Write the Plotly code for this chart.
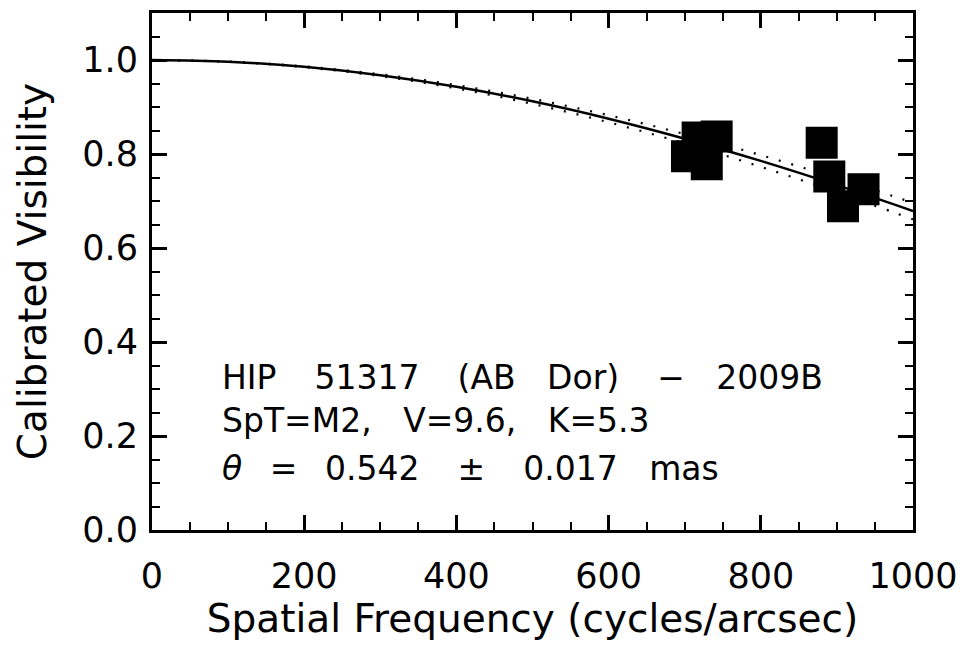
import plotly.graph_objects as go

obs_freq = [703, 717, 729, 742, 880, 890, 908, 935]
obs_vis = [0.795, 0.835, 0.778, 0.837, 0.824, 0.752, 0.689, 0.725]

# Uniform-disk model curve
model_freq = [0, 100, 200, 300, 400, 500, 600, 700, 800, 900, 1000]
model_vis = [1.0, 0.9964, 0.9856, 0.9677, 0.9431, 0.9121, 0.8751, 0.8326, 0.7853, 0.7338, 0.6788]
model_hi = [1.0, 0.9966, 0.9865, 0.9697, 0.9466, 0.9174, 0.8825, 0.8424, 0.7976, 0.7487, 0.6964]
model_lo = [1.0, 0.9961, 0.9847, 0.9657, 0.9396, 0.9067, 0.8675, 0.8226, 0.7727, 0.7186, 0.6610]

x_ticks = [0, 200, 400, 600, 800, 1000]
x_ticklabels = ["0", "200", "400", "600", "800", "1000"]
y_ticks = [0.0, 0.2, 0.4, 0.6, 0.8, 1.0]
y_ticklabels = ["0.0", "0.2", "0.4", "0.6", "0.8", "1.0"]

S3w = "\u00a0\u00a0\u00a0\u2009"
S3 = "\u00a0\u00a0\u00a0"
S2 = "\u00a0\u00a0\u2009"
info_lines = [
    "HIP" + S3w + "51317" + S3w + "(AB" + S3 + "Dor)" + S3w + "\u2212" + S3 + "2009B",
    "SpT=M2," + S3 + "V=9.6," + S3 + "K=5.3",
    "<i>\u03b8</i>" + S2 + "=" + S2 + "0.542" + S3w + "\u00b1" + S3w + "0.017" + S3 + "mas",
]
info_y = [0.325, 0.234, 0.131]

FONT = "DejaVu Sans"

fig = go.Figure()
for ys in (model_hi, model_lo):
    fig.add_trace(go.Scatter(
        x=model_freq, y=ys, mode="lines", line_shape="spline",
        line=dict(color="black", width=2.2, dash="2px,11px"),
        showlegend=False, hoverinfo="skip"))
fig.add_trace(go.Scatter(
    x=model_freq, y=model_vis, mode="lines", line_shape="spline",
    line=dict(color="black", width=2.5), showlegend=False))
fig.add_trace(go.Scatter(
    x=obs_freq, y=obs_vis, mode="markers",
    marker=dict(symbol="square", size=32, color="black", line=dict(width=0)),
    showlegend=False))

for txt, yy in zip(info_lines, info_y):
    fig.add_annotation(x=0.090, xref="paper", y=yy, yref="y", text=txt,
                       showarrow=False, xanchor="left", yanchor="middle",
                       font=dict(family=FONT, size=33, color="black"))

axis_common = dict(
    showline=True, linecolor="black", linewidth=3, mirror="ticks",
    ticks="inside", ticklen=15, tickwidth=2.5, tickcolor="black",
    showgrid=False, zeroline=False,
    tickfont=dict(family=FONT, size=35, color="black"),
)

fig.update_xaxes(
    range=[0, 1000], tickvals=x_ticks, ticktext=x_ticklabels,
    minor=dict(ticks="inside", ticklen=8, tickwidth=2, tickcolor="black", dtick=50, showgrid=False),
    title=dict(text="Spatial Frequency (cycles/arcsec)", font=dict(family=FONT, size=39, color="black"), standoff=4),
    ticklabelstandoff=13,
    **axis_common)
fig.update_yaxes(
    range=[0, 1.1], tickvals=y_ticks, ticktext=y_ticklabels,
    minor=dict(ticks="inside", ticklen=8, tickwidth=2, tickcolor="black", dtick=0.05, showgrid=False),
    title=dict(text="Calibrated Visibility", font=dict(family=FONT, size=39, color="black"), standoff=24),
    ticklabelstandoff=4,
    **axis_common)

fig.update_layout(
    width=970, height=656,
    margin=dict(l=152, r=57, t=10, b=126),
    paper_bgcolor="white", plot_bgcolor="white",
)

fig.write_html("out.html")
